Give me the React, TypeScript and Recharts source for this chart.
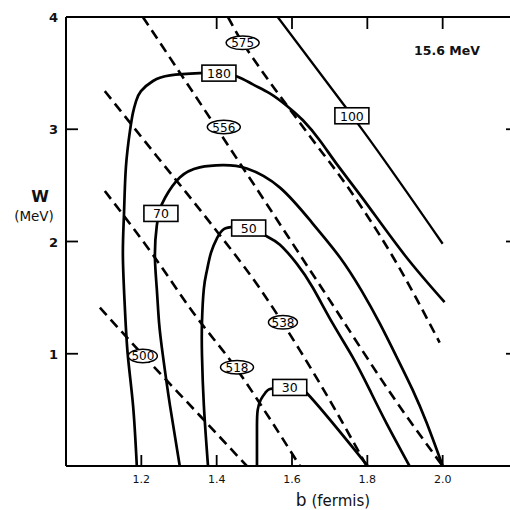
import { LineChart, Line, XAxis, YAxis, ReferenceDot } from "recharts";

type Pt = [number, number];

const xTicks = [1.2, 1.4, 1.6, 1.8, 2.0];
const xTopTicks = [1.4, 1.6, 1.8, 2.0];
const yTicks = [1, 2, 3, 4];
const yRightTicks = [1, 2, 3];

// solid contours, [b, W]
const c180: Pt[] = [
  [1.188, 0], [1.178, 0.54], [1.164, 0.99], [1.156, 1.43], [1.151, 1.88],
  [1.154, 2.25], [1.159, 2.66], [1.17, 2.99], [1.178, 3.15], [1.186, 3.25],
  [1.199, 3.34], [1.231, 3.43], [1.276, 3.48], [1.355, 3.5], [1.406, 3.5],
  [1.454, 3.47], [1.496, 3.4], [1.541, 3.32], [1.586, 3.21], [1.629, 3.08],
  [1.674, 2.9], [1.721, 2.68], [1.793, 2.36], [1.899, 1.88], [2.005, 1.46],
];
const c100: Pt[] = [[1.562, 4.0], [1.735, 3.23], [1.788, 2.99], [2.0, 1.98]];
const c70: Pt[] = [
  [1.302, 0], [1.276, 0.54], [1.257, 0.99], [1.247, 1.28], [1.241, 1.58],
  [1.236, 1.88], [1.241, 2.14], [1.249, 2.28], [1.263, 2.39], [1.302, 2.57],
  [1.355, 2.66], [1.416, 2.68], [1.48, 2.65], [1.568, 2.48], [1.655, 2.16],
  [1.727, 1.86], [1.785, 1.56], [1.833, 1.27], [1.878, 0.97], [1.92, 0.68],
  [1.958, 0.38], [2.0, 0],
];
const c50: Pt[] = [
  [1.377, 0], [1.366, 0.54], [1.361, 0.99], [1.361, 1.28], [1.366, 1.58],
  [1.374, 1.74], [1.385, 1.9], [1.401, 2.03], [1.419, 2.11], [1.448, 2.13],
  [1.485, 2.12], [1.531, 2.05], [1.568, 1.97], [1.613, 1.8], [1.655, 1.59],
  [1.708, 1.27], [1.761, 0.97], [1.806, 0.68], [1.851, 0.38], [1.912, 0],
];
const c30: Pt[] = [
  [1.507, 0], [1.507, 0.36], [1.509, 0.5], [1.517, 0.59], [1.531, 0.66],
  [1.549, 0.69], [1.594, 0.7], [1.639, 0.65], [1.801, 0],
];

// dashed contours
const d575: Pt[] = [
  [1.43, 4.0], [1.469, 3.77], [1.493, 3.65], [1.647, 2.94], [1.745, 2.5],
  [1.865, 1.88], [1.992, 1.1],
];
const d556: Pt[] = [[1.204, 4.0], [1.469, 2.66], [1.682, 1.57], [1.886, 0.53], [2.0, 0]];
const d538: Pt[] = [
  [1.103, 3.34], [1.241, 2.76], [1.382, 2.17], [1.515, 1.58], [1.621, 1.03],
  [1.708, 0.54], [1.798, 0],
];
const d518: Pt[] = [
  [1.103, 2.45], [1.231, 1.88], [1.337, 1.37], [1.454, 0.86], [1.549, 0.38], [1.621, 0],
];
const d500: Pt[] = [[1.09, 1.41], [1.204, 0.99], [1.355, 0.45], [1.48, 0]];

const boxLabels = [
  { text: "180", b: 1.406, w: 3.5 },
  { text: "100", b: 1.759, w: 3.12 },
  { text: "70", b: 1.252, w: 2.25 },
  { text: "50", b: 1.485, w: 2.12 },
  { text: "30", b: 1.594, w: 0.7 },
];
const ovalLabels = [
  { text: "575", b: 1.469, w: 3.77 },
  { text: "556", b: 1.419, w: 3.02 },
  { text: "538", b: 1.576, w: 1.28 },
  { text: "518", b: 1.454, w: 0.88 },
  { text: "500", b: 1.204, w: 0.98 },
];

const rows = (pts: Pt[]) => pts.map(([b, w]) => ({ b, w }));

const font = "'DejaVu Sans', sans-serif";

// ticks point inward, labels sit outside
function BottomTick(props: any) {
  const { x, y, payload } = props;
  return (
    <g>
      <line x1={x} y1={y} x2={x} y2={y - 11} stroke="#000" strokeWidth={1.8} />
      <text x={x} y={y + 17} textAnchor="middle" fontSize={11} fontFamily={font} fill="#111">
        {payload.value.toFixed(1)}
      </text>
    </g>
  );
}

function TopTick(props: any) {
  const { x, y } = props;
  return <line x1={x} y1={y} x2={x} y2={y + 12} stroke="#000" strokeWidth={1.8} />;
}

function LeftTick(props: any) {
  const { x, y, payload } = props;
  return (
    <g>
      <line x1={x} y1={y} x2={x + 12} y2={y} stroke="#000" strokeWidth={1.8} />
      <text x={x - 8} y={y + 5} textAnchor="end" fontSize={13} fontWeight="bold" fontFamily={font} fill="#111">
        {payload.value}
      </text>
    </g>
  );
}

function RightTick(props: any) {
  const { x, y } = props;
  return <line x1={x} y1={y} x2={x - 12} y2={y} stroke="#000" strokeWidth={1.8} />;
}

const boxShape = (text: string) => (p: any) => (
  <g>
    <rect x={p.cx - 17} y={p.cy - 8} width={34} height={16} fill="#fff" stroke="#000" strokeWidth={1.6} />
    <text x={p.cx} y={p.cy + 5} textAnchor="middle" fontSize={12.5} fontFamily={font} fill="#000">
      {text}
    </text>
  </g>
);

const ovalShape = (text: string) => (p: any) => (
  <g>
    <ellipse cx={p.cx} cy={p.cy} rx={text === "538" || text === "500" ? 14.5 : 16.5} ry={6.8} fill="#fff" stroke="#000" strokeWidth={1.5} />
    <text x={p.cx} y={p.cy + 4.5} textAnchor="middle" fontSize={12} fontFamily={font} fill="#000">
      {text}
    </text>
  </g>
);

const solid = { stroke: "#000", strokeWidth: 2.7, dot: false, isAnimationActive: false } as const;
const dashed = { ...solid, strokeWidth: 2.6, strokeDasharray: "10 6" };

export default function App() {
  return (
    <div style={{ position: "absolute", left: 0, top: 0, width: 510, height: 510, overflow: "hidden", background: "#fff" }}>
      <LineChart width={520} height={510} margin={{ top: 16, right: 1, bottom: 0, left: 0 }}>
        <XAxis
          dataKey="b"
          type="number"
          domain={[1.0, 2.2]}
          ticks={xTicks}
          interval={0}
          allowDataOverflow
          height={44}
          tickSize={0}
          tickMargin={0}
          tick={<BottomTick />}
          axisLine={{ stroke: "#000", strokeWidth: 2 }}
        />
        <XAxis
          xAxisId="top"
          orientation="top"
          dataKey="b"
          type="number"
          domain={[1.0, 2.2]}
          ticks={xTopTicks}
          interval={0}
          allowDataOverflow
          height={1}
          tickSize={0}
          tickMargin={0}
          tick={<TopTick />}
          axisLine={{ stroke: "#000", strokeWidth: 2 }}
        />
        <YAxis
          type="number"
          domain={[0, 4]}
          ticks={yTicks}
          interval={0}
          allowDataOverflow
          width={66}
          tickSize={0}
          tickMargin={0}
          tick={<LeftTick />}
          axisLine={{ stroke: "#000", strokeWidth: 2 }}
        />
        <YAxis
          yAxisId="right"
          orientation="right"
          type="number"
          domain={[0, 4]}
          ticks={yRightTicks}
          interval={0}
          allowDataOverflow
          width={1}
          tickSize={0}
          tickMargin={0}
          tick={<RightTick />}
          axisLine={{ stroke: "#000", strokeWidth: 2 }}
        />

        <Line data={rows(c180)} dataKey="w" type="natural" {...solid} />
        <Line data={rows(c100)} dataKey="w" type="monotone" xAxisId="top" yAxisId="right" {...solid} strokeWidth={2.3} />
        <Line data={rows(c70)} dataKey="w" type="natural" {...solid} />
        <Line data={rows(c50)} dataKey="w" type="natural" {...solid} />
        <Line data={rows(c30)} dataKey="w" type="natural" {...solid} />

        <Line data={rows(d575)} dataKey="w" type="monotone" {...dashed} />
        <Line data={rows(d556)} dataKey="w" type="monotone" {...dashed} />
        <Line data={rows(d538)} dataKey="w" type="monotone" {...dashed} />
        <Line data={rows(d518)} dataKey="w" type="monotone" {...dashed} />
        <Line data={rows(d500)} dataKey="w" type="monotone" {...dashed} />

        {boxLabels.map((l) => (
          <ReferenceDot key={l.text} x={l.b} y={l.w} r={1} shape={boxShape(l.text)} />
        ))}
        {ovalLabels.map((l) => (
          <ReferenceDot key={l.text} x={l.b} y={l.w} r={1} shape={ovalShape(l.text)} />
        ))}
      </LineChart>

      <svg width={510} height={510} style={{ position: "absolute", left: 0, top: 0, pointerEvents: "none" }}>
        <text x={40} y={202} textAnchor="middle" fontSize={16} fontWeight="bold" fontFamily={font} fill="#111">W</text>
        <text x={34} y={221} textAnchor="middle" fontSize={13.5} fontFamily={font} fill="#111">(MeV)</text>
        <text x={447} y={55} textAnchor="middle" fontSize={12.5} fontWeight="bold" fontFamily={font} fill="#111">15.6 MeV</text>
        <text x={333} y={506} textAnchor="middle" fontSize={15} fontFamily={font} fill="#111">
          <tspan fontSize={17}>b</tspan> (fermis)
        </text>
      </svg>
    </div>
  );
}
